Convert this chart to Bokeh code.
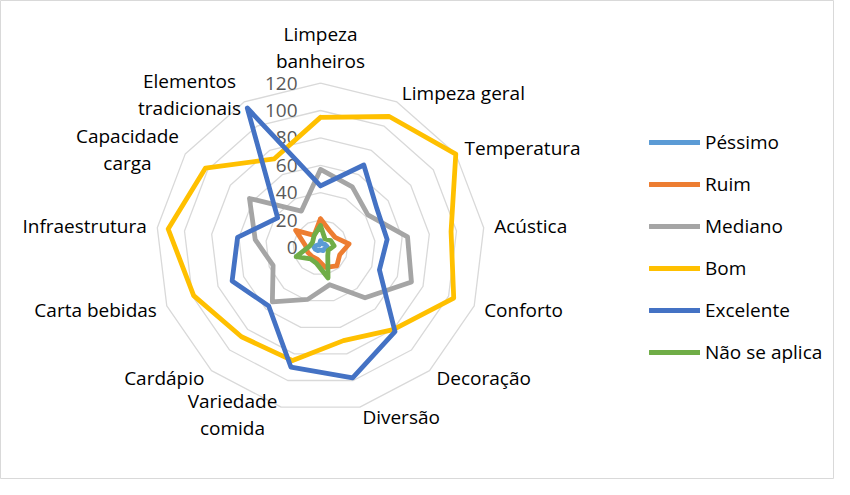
import numpy as np
from bokeh.plotting import figure
from bokeh.models import Range1d, Legend, LegendItem
from bokeh.core.properties import value
from bokeh.embed import file_html
from bokeh.resources import INLINE

# ---------------- data ----------------
categories = ["Limpeza banheiros", "Limpeza geral", "Temperatura", "Acústica", "Conforto",
              "Decoração", "Diversão", "Variedade comida", "Cardápio", "Carta bebidas",
              "Infraestrutura", "Capacidade carga", "Elementos tradicionais"]
series_names = ["Péssimo", "Ruim", "Mediano", "Bom", "Excelente", "Não se aplica"]
pessimo = [5, 3, 4, 5, 3, 3, 2, 2, 3, 4, 5, 3, 2]
ruim = [21, 14, 13, 21, 15, 18, 15, 9, 9, 10, 11, 22, 10]
mediano = [57, 50, 42, 64, 71, 49, 28, 39, 53, 37, 48, 63, 30]
bom = [95, 108, 120, 96, 104, 80, 70, 85, 87, 99, 112, 102, 73]
excelente = [45, 68, 50, 49, 46, 82, 98, 90, 57, 69, 61, 38, 115]
nao_se_aplica = [16, 7, 9, 10, 6, 8, 23, 12, 11, 19, 8, 7, 10]
tick_values = [0, 20, 40, 60, 80, 100, 120]
tick_labels = ["0", "20", "40", "60", "80", "100", "120"]

series = [pessimo, ruim, mediano, bom, excelente, nao_se_aplica]
colors = ["#5B9BD5", "#ED7D31", "#A5A5A5", "#FFC000", "#4472C4", "#70AD47"]

# ---------------- layout ----------------
W, H = 834, 479
S = 1.37                    # px per value unit
CX, CY = 320, 247           # centre of radar in figure pixels (from top-left)
FONT = "Open Sans"
FS = "19px"

p = figure(width=W, height=H, output_backend="svg", toolbar_location=None,
           x_range=Range1d(-CX / S, (W - CX) / S),
           y_range=Range1d(-(H - CY) / S, CY / S),
           min_border=0)
p.axis.visible = False
p.grid.visible = False
p.outline_line_color = "#d9d9d9"
p.outline_line_width = 1

n = len(categories)
theta = np.arange(n) * 2 * np.pi / n

# rings
for v in tick_values[1:]:
    xs = list(v * np.sin(theta)) + [v * np.sin(theta[0])]
    ys = list(v * np.cos(theta)) + [v * np.cos(theta[0])]
    p.line(xs, ys, line_color="#d9d9d9", line_width=1.3)

# value axis labels
p.text(x=[-23 / S] * len(tick_values), y=tick_values, text=tick_labels,
       text_align="right", text_baseline="middle",
       text_font=value(FONT), text_font_size=FS, text_color="#595959")

# series
renderers = []
for vals, col in zip(series, colors):
    v = np.array(vals, dtype=float)
    xs = list(v * np.sin(theta)) + [v[0] * np.sin(theta[0])]
    ys = list(v * np.cos(theta)) + [v[0] * np.cos(theta[0])]
    r = p.line(xs, ys, line_color=col, line_width=4.8, line_join="round", line_cap="round")
    renderers.append(r)

# category labels
R_LAB = 175 / S
wrapped = {0: (0, 200.5), 7: (-88, -166.5), 11: (-193, 98), 12: (-131, 153.5)}
LINE_GAP = 27
for i, name in enumerate(categories):
    if i in wrapped:
        bx, by = wrapped[i]
        parts = name.split(" ", 1)
        for j, part in enumerate(parts):
            off = (len(parts) - 1) / 2 * LINE_GAP - j * LINE_GAP
            p.text(x=[bx / S], y=[(by + off) / S], text=[part], text_align="center",
                   text_baseline="middle", text_font=value(FONT),
                   text_font_size=FS, text_color="#000000")
    else:
        s = np.sin(theta[i])
        align = "left" if s > 0.15 else ("right" if s < -0.15 else "center")
        p.text(x=[R_LAB * s], y=[R_LAB * np.cos(theta[i])], text=[name],
               text_align=align, text_baseline="middle", text_font=value(FONT),
               text_font_size=FS, text_color="#000000")

legend = Legend(items=[LegendItem(label=nm, renderers=[r]) for nm, r in zip(series_names, renderers)],
                location=(649, 113), orientation="vertical",
                glyph_width=51, glyph_height=28, label_height=28, spacing=14,
                padding=0, margin=0, label_standoff=5,
                border_line_color=None, background_fill_alpha=0,
                label_text_font=FONT, label_text_font_size=FS,
                label_text_color="#000000")
p.add_layout(legend, "center")

open("out.html", "w").write(file_html(p, INLINE))
